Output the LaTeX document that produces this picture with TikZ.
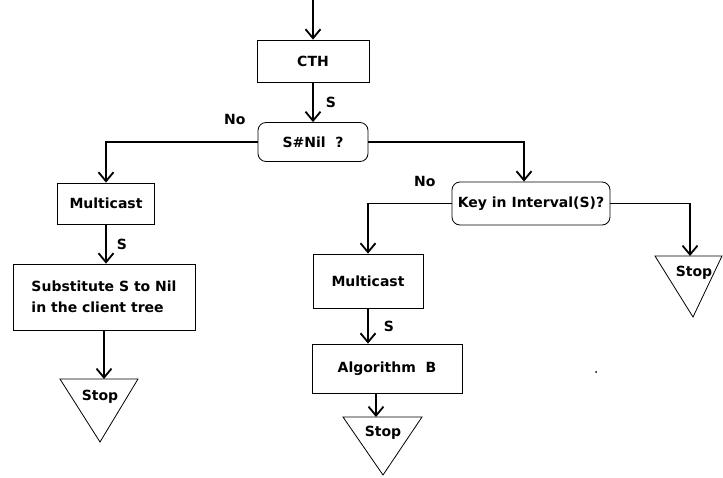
\documentclass[tikz,border=0pt]{standalone}
\usepackage{fontspec}
\setmainfont{DejaVu Sans}
\usetikzlibrary{arrows.meta,positioning}
\begin{document}
\begin{tikzpicture}[x=1pt,y=-1pt,
  every node/.style={font=\bfseries\fontsize{14}{16}\selectfont},
  box/.style={draw,line width=0.8pt,inner sep=2pt},
  decision/.style={box,rounded corners=8pt},
  tri/.style={draw,line width=0.8pt},
  arr/.style={line width=1.8pt,-{Straight Barb[length=9pt,width=15pt]}},
  lbl/.style={inner sep=1pt}]
\useasboundingbox (0,0) rectangle (723,477);
% top part
\coordinate (entry) at (313,0);
\node[box,minimum width=112,minimum height=42] (cth) at (313,61) {CTH};
\node[decision,minimum width=110,minimum height=39] (snil) at (313,142) {S\#Nil ~?};
\draw[arr] (entry) -- (cth);
\draw[arr] (cth) -- node[lbl,right=11pt]{S} (snil);
% left branch
\node[box,minimum width=97,minimum height=41] (mc1) at (106,203.5) {Multicast};
\node[box,minimum width=182,minimum height=66,align=left,
  font=\bfseries\fontsize{14}{21}\selectfont] (sub) at (104,297)
  {Substitute S to Nil\\in the client tree};
\draw[tri] (60,379) -- (138,379) -- (100,442) -- cycle;
\node (stop1) at (100,397) {Stop};
\coordinate (stop1top) at (104,379);
\draw[arr] (snil.west) -| node[lbl,pos=0.075,above=15pt]{No} (mc1.north);
\draw[arr] (mc1.south) -- node[lbl,right=9pt]{S} (mc1.south |- sub.north);
\draw[arr] (sub.south -| stop1top) -- (stop1top);
% right branch
\node[decision,minimum width=158,minimum height=43] (kint) at (531,203.5) {Key in Interval(S)?};
\node[box,minimum width=110,minimum height=54] (mc2) at (368,281) {Multicast};
\node[box,minimum width=150,minimum height=49] (algb) at (387,368.5) {Algorithm ~B};
\draw[tri] (343,417) -- (422,417) -- (383,475) -- cycle;
\node (stop2) at (383,433) {Stop};
\coordinate (stop2top) at (376,417);
\draw[tri] (655,256) -- (722,256) -- (693,317) -- cycle;
\node (stop3) at (694,273) {Stop};
\coordinate (stop3top) at (690,256);
\draw[arr] (snil.east) -| ([xshift=-7pt]kint.north);
\draw[arr] (kint.west) -| node[lbl,pos=0.16,above=15pt]{No} (mc2.north);
\draw[arr] (kint.east) -| (stop3top);
\draw[arr] (mc2.south) -- node[lbl,right=14pt]{S} (mc2.south |- algb.north);
\draw[arr] (algb.south -| stop2top) -- (stop2top);
\fill (596,372) circle (1pt);
\end{tikzpicture}
\end{document}
